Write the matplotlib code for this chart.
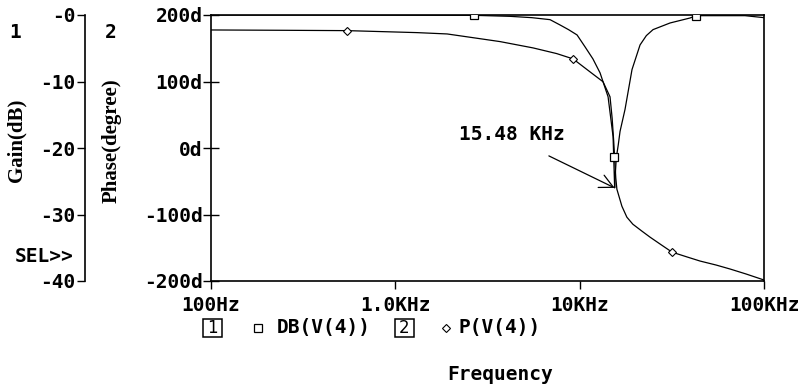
import matplotlib
matplotlib.use("Agg")
import matplotlib.pyplot as plt
from matplotlib.lines import Line2D
from matplotlib.patches import Rectangle
from matplotlib.ticker import FixedLocator, FixedFormatter

# gain trace DB(V(4))
gain_freq = [100, 300, 1000, 2673, 4188, 5500, 6905, 7828, 8700, 9680, 10700,
             11800, 12900, 14260, 15180, 15300, 15480, 15600, 15800, 16200,
             16560, 17620, 19230, 21260, 23000, 25000, 30920, 39700, 42850,
             45000, 60000, 78900, 100000]
gain_db = [0, 0, -0.02, -0.05, -0.2, -0.4, -0.7, -1.5, -2.2, -3.0, -4.8,
           -6.6, -8.7, -12.3, -18.3, -21.4, -26.0, -24.0, -21.5, -19.5,
           -17.5, -14.2, -8.2, -4.5, -3.1, -2.2, -1.2, -0.45, -0.1,
           -0.1, -0.1, -0.1, -0.4]
gain_marker_freq = [2673, 15300, 42850]

# phase trace P(V(4))
phase_freq = [100, 250, 547, 900, 1312, 1910, 2700, 3700, 5590, 7500,
              9210, 11380, 13390, 14610, 15000, 15300, 15480, 15700, 15920,
              16950, 18030, 19430, 21760, 24070, 27500, 31700, 38000, 45000,
              55000, 65500, 80000, 100000]
phase_deg = [177.5, 177, 176.5, 174.8, 173.5, 171.5, 165.5, 160, 150.5, 142,
             134, 114.5, 99.6, 77, 45, 10, -15, -45, -62,
             -87.6, -104, -114.6, -125, -134, -145, -156.6, -163.6, -170,
             -176, -182, -189.5, -198.5]
phase_marker_freq = [547, 9210, 31700]

freq_ticks = [100, 1000, 10000, 100000]
freq_labels = ["100Hz", "1.0KHz", "10KHz", "100KHz"]
phase_ticks = [200, 100, 0, -100, -200]
phase_labels = ["200d", "100d", "0d", "-100d", "-200d"]
gain_ticks = [0, -10, -20, -30, -40]
gain_labels = ["-0", "-10", "-20", "-30", "-40"]

W, H = 805, 388
MONO = dict(family="DejaVu Sans Mono", weight="bold", size=14)


def fx(px):
    return px / W


def fy(py):
    return 1 - py / H


fig = plt.figure(figsize=(W / 100, H / 100), dpi=100)
ax = fig.add_axes([fx(211), fy(281), (764 - 211) / W, (281 - 15) / H])

ax.plot(phase_freq, phase_deg, color="black", lw=0.9,
        marker="D", markersize=4.5, markerfacecolor="white",
        markeredgecolor="black", markeredgewidth=0.8,
        markevery=[phase_freq.index(f) for f in phase_marker_freq])
ax.set_xscale("log")
ax.set_xlim(100, 100000)
ax.set_ylim(-200, 200)
ax.xaxis.set_major_locator(FixedLocator(freq_ticks))
ax.xaxis.set_major_formatter(FixedFormatter(freq_labels))
ax.xaxis.set_minor_locator(FixedLocator([]))
ax.yaxis.set_major_locator(FixedLocator(phase_ticks))
ax.yaxis.set_major_formatter(FixedFormatter(phase_labels))
ax.tick_params(axis="x", direction="out", length=6, width=1, pad=5)
ax.tick_params(axis="y", direction="inout", length=12, width=1, pad=0)
for lab in ax.get_xticklabels() + ax.get_yticklabels():
    lab.set_fontproperties(MONO)
for sp in ax.spines.values():
    sp.set_linewidth(1.2)

ax2 = ax.twinx()
ax2.plot(gain_freq, gain_db, color="black", lw=0.9,
         marker="s", markersize=6, markerfacecolor="white",
         markeredgecolor="black", markeredgewidth=0.9,
         markevery=[gain_freq.index(f) for f in gain_marker_freq])
ax2.set_ylim(-40, 0)
ax2.yaxis.tick_left()
ax2.spines["left"].set_position(("outward", (211 - 85) * 0.72))
ax2.spines["left"].set_linewidth(1.2)
for side in ("right", "top", "bottom"):
    ax2.spines[side].set_visible(False)
ax2.yaxis.set_major_locator(FixedLocator(gain_ticks))
ax2.yaxis.set_major_formatter(FixedFormatter(gain_labels))
ax2.tick_params(axis="y", direction="out", length=6, width=1, pad=1)
for lab in ax2.get_yticklabels():
    lab.set_fontproperties(MONO)

# axis titles
serif = dict(family="Liberation Serif", weight="bold", size=15)
fig.text(fx(16), fy(140), "Gain(dB)", rotation=90, ha="center", va="center", **serif)
fig.text(fx(112), fy(141), "Phase(degree)", rotation=90, ha="center", va="center", **serif)
fig.text(fx(15), fy(32), "1", ha="center", va="center", fontdict=MONO)
fig.text(fx(111), fy(33), "2", ha="center", va="center", fontdict=MONO)
fig.text(fx(15), fy(257), "SEL>>", ha="left", va="center", fontdict=MONO)
fig.text(fx(500), fy(375), "Frequency", ha="center", va="center", fontdict=MONO)

# legend row
for x0, num in ((203, "1"), (395, "2")):
    fig.add_artist(Rectangle((fx(x0), fy(337)), 19 / W, 18 / H,
                             transform=fig.transFigure, facecolor="white",
                             edgecolor="black", lw=1.1))
    fig.text(fx(x0 + 9.5), fy(328), num, ha="center", va="center",
             family="DejaVu Sans", size=12)
fig.add_artist(Line2D([fx(258)], [fy(328)], marker="s", markersize=6,
                      markerfacecolor="white", markeredgecolor="black",
                      markeredgewidth=0.9, transform=fig.transFigure))
fig.text(fx(277), fy(328), "DB(V(4))", ha="left", va="center", fontdict=MONO)
fig.add_artist(Line2D([fx(446)], [fy(328)], marker="D", markersize=4.5,
                      markerfacecolor="white", markeredgecolor="black",
                      markeredgewidth=0.8, transform=fig.transFigure))
fig.text(fx(458), fy(328), "P(V(4))", ha="left", va="center", fontdict=MONO)

# cursor annotation
ax2.annotate("15.48 KHz", xy=(15480, -26.0), xytext=(459, fy(135) * H),
             textcoords="figure pixels", ha="left", va="center",
             fontproperties=MONO,
             arrowprops=dict(arrowstyle="->,head_length=0.7,head_width=0.35",
                             color="black", lw=0.9,
                             shrinkA=0, shrinkB=0,
                             relpos=(0.85, -0.6)))

fig.savefig("out.png", dpi=100)
